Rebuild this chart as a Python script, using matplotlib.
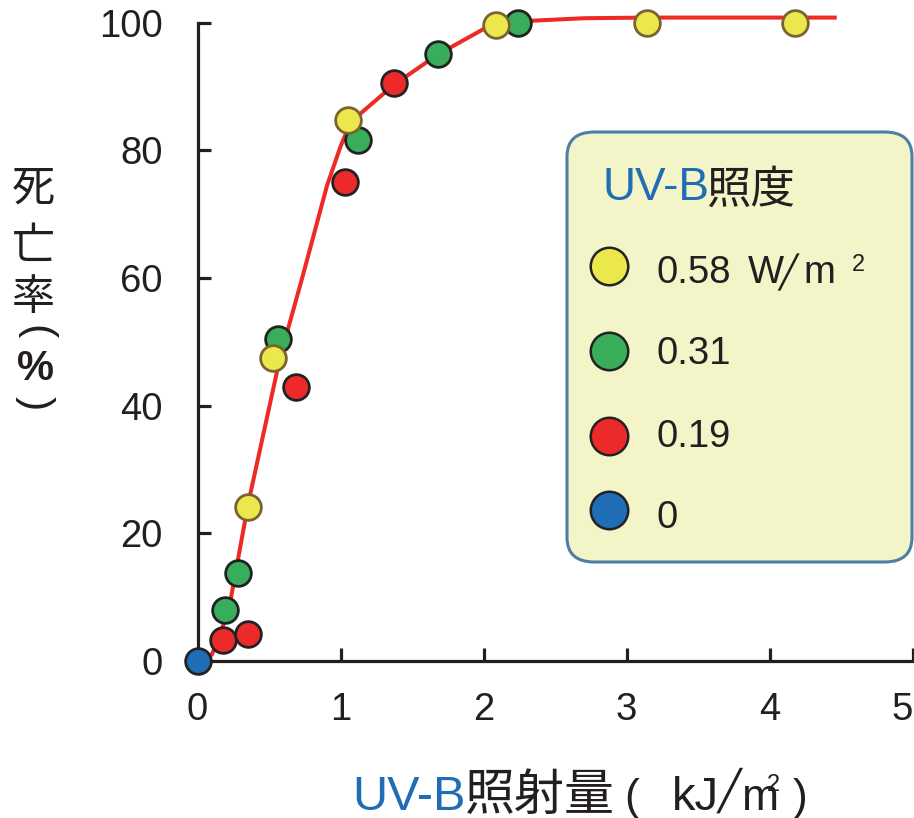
import matplotlib
matplotlib.use("Agg")
import matplotlib.pyplot as plt
from matplotlib.patches import FancyBboxPatch
from matplotlib.lines import Line2D

# ---- data ----
x_058 = [0.355, 0.53, 1.05, 2.09, 3.14, 4.18]
y_058 = [24.1, 47.4, 84.7, 99.7, 100.0, 100.0]
x_031 = [0.19, 0.285, 0.565, 1.12, 1.68, 2.24]
y_031 = [8.0, 13.8, 50.4, 81.7, 95.1, 100.0]
x_019 = [0.18, 0.35, 0.69, 1.03, 1.375]
y_019 = [3.3, 4.2, 42.9, 75.0, 90.5]
x_0 = [0.0]
y_0 = [0.0]
curve_x = [0.0, 0.06, 0.1, 0.15, 0.227, 0.353, 0.577, 0.738, 0.906, 1.0, 1.06, 1.136,
           1.375, 1.68, 2.0, 2.33, 2.7, 3.14, 4.47]
curve_y = [0.0, 0.3, 1.0, 3.5, 9.0, 24.5, 47.5, 60.5, 74.5, 80.6, 83.8, 85.7,
           90.3, 95.0, 99.0, 100.3, 100.7, 100.8, 100.8]
xticks = [0, 1, 2, 3, 4, 5]
yticks = [0, 20, 40, 60, 80, 100]
legend_labels = ["0.58", "0.31", "0.19", "0"]

C_YEL, C_GRN, C_RED, C_BLU = "#ebe84e", "#38ad5a", "#ed2a2a", "#1f6db5"
E_YEL, E_DARK = "#7a6330", "#222222"
TXT = "#231f20"
LAT = ["Liberation Sans", "Noto Sans CJK JP"]
CJK = ["Noto Sans CJK JP", "DejaVu Sans"]
DJV = ["DejaVu Sans"]

W, H = 914, 818
fig = plt.figure(figsize=(W / 100, H / 100), dpi=100)
ax = fig.add_axes([197.5 / W, 1 - 661 / H, (912.5 - 197.5) / W, (661 - 22.7) / H])
ax.set_xlim(0, 5)
ax.set_ylim(0, 100)
for s in ["top", "right"]:
    ax.spines[s].set_visible(False)
for s in ["left", "bottom"]:
    ax.spines[s].set_linewidth(2.3)
    ax.spines[s].set_color(TXT)

ax.plot(curve_x, curve_y, color="#ee2a24", lw=2.9, zorder=2, clip_on=False,
        solid_capstyle="butt", solid_joinstyle="round")

ms, mew = 18.5, 2.0
ax.plot(x_031, y_031, "o", ms=ms, mfc=C_GRN, mec=E_DARK, mew=mew, zorder=3, clip_on=False)
ax.plot(x_019, y_019, "o", ms=ms, mfc=C_RED, mec=E_DARK, mew=mew, zorder=4, clip_on=False)
ax.plot(x_058, y_058, "o", ms=ms, mfc=C_YEL, mec=E_YEL, mew=mew, zorder=5, clip_on=False)
ax.plot(x_0, y_0, "o", ms=ms, mfc=C_BLU, mec=E_DARK, mew=mew, zorder=6, clip_on=False)

ax.set_xticks(xticks)
ax.set_yticks(yticks)
ax.set_xticklabels([str(v) for v in xticks], fontsize=27.5, family=LAT, color=TXT)
ax.set_yticklabels([str(v) for v in yticks], fontsize=27.5, family=LAT, color=TXT)
ax.get_xticklabels()[-1].set_ha("right")
ax.tick_params(axis="both", direction="in", length=9.5, width=2.3, color=TXT)
ax.tick_params(axis="x", pad=22)
ax.tick_params(axis="y", pad=25)


def px(x, y):
    return x / W, 1 - y / H


# y label (stacked vertical)
for ch, yp in zip(["死", "亡", "率"], [189, 247, 298]):
    fig.text(*px(33, yp), ch, fontsize=31, family=CJK, ha="center", va="center", color=TXT)
fig.text(*px(35, 332), "(", fontsize=31, family=LAT, rotation=-90, rotation_mode="anchor",
         ha="center", va="center", color=TXT)
fig.text(*px(35, 369), "%", fontsize=30, family=LAT, weight="bold", ha="center", va="center", color=TXT)
fig.text(*px(35, 403), ")", fontsize=31, family=LAT, rotation=-90, rotation_mode="anchor",
         ha="center", va="center", color=TXT)

# x label pieces
yb = 810
fig.text(*px(352, yb), "UV-B", fontsize=35, family=LAT, color=C_BLU, ha="left", va="baseline")
fig.text(*px(465, yb), "照射量", fontsize=36, family=CJK, color=TXT, ha="left", va="baseline")
fig.text(*px(624, yb), "(", fontsize=32, family=LAT, color=TXT, ha="left", va="baseline")
fig.text(*px(672, yb), "kJ", fontsize=34, family=LAT, color=TXT, ha="left", va="baseline")
fig.text(*px(729, 790), "╱", fontsize=28, family=DJV, color=TXT, ha="center", va="center")
fig.text(*px(742, yb), "m", fontsize=32, family=LAT, color=TXT, ha="left", va="baseline")
fig.text(*px(767, 791), "2", fontsize=17, family=LAT, color=TXT, ha="left", va="baseline")
fig.text(*px(793, yb), ")", fontsize=32, family=LAT, color=TXT, ha="left", va="baseline")

# legend box
box = FancyBboxPatch(px(567, 562), (912 - 567) / W, (562 - 132) / H,
                     boxstyle="round,pad=0,rounding_size=0.03", transform=fig.transFigure,
                     facecolor="#f3f5c8", edgecolor="#4d7fa6", lw=2.2, zorder=10)
fig.add_artist(box)
fig.text(*px(602, 200), "UV-B", fontsize=33, family=LAT, color=C_BLU, ha="left", va="baseline", zorder=11)
fig.text(*px(706, 203), "照度", fontsize=32, family=CJK, color=TXT, ha="left", va="baseline", zorder=11)

mcols = [C_YEL, C_GRN, C_RED, C_BLU]
my = [266, 351, 436, 510]
ty_ = [273, 354, 437, 518]
for fc, m_y, t_y, lab in zip(mcols, my, ty_, legend_labels):
    fig.add_artist(Line2D([609 / W], [1 - m_y / H], marker="o", ms=27, mfc=fc, mec=E_DARK, mew=1.8,
                          transform=fig.transFigure, zorder=11))
    fig.text(*px(657, t_y), lab, fontsize=27.5, family=LAT, color=TXT,
             ha="left", va="center", zorder=11)
# unit of the first legend entry
fig.text(*px(748, 273), "W", fontsize=27.5, family=LAT, color=TXT, ha="left", va="center", zorder=11)
fig.text(*px(788, 272), "╱", fontsize=23, family=DJV, color=TXT, ha="center", va="center", zorder=11)
fig.text(*px(803, 273), "m", fontsize=27.5, family=LAT, color=TXT, ha="left", va="center", zorder=11)
fig.text(*px(852, 265), "2", fontsize=17, family=LAT, color=TXT, ha="left", va="center", zorder=11)

fig.savefig("out.png", dpi=100)
